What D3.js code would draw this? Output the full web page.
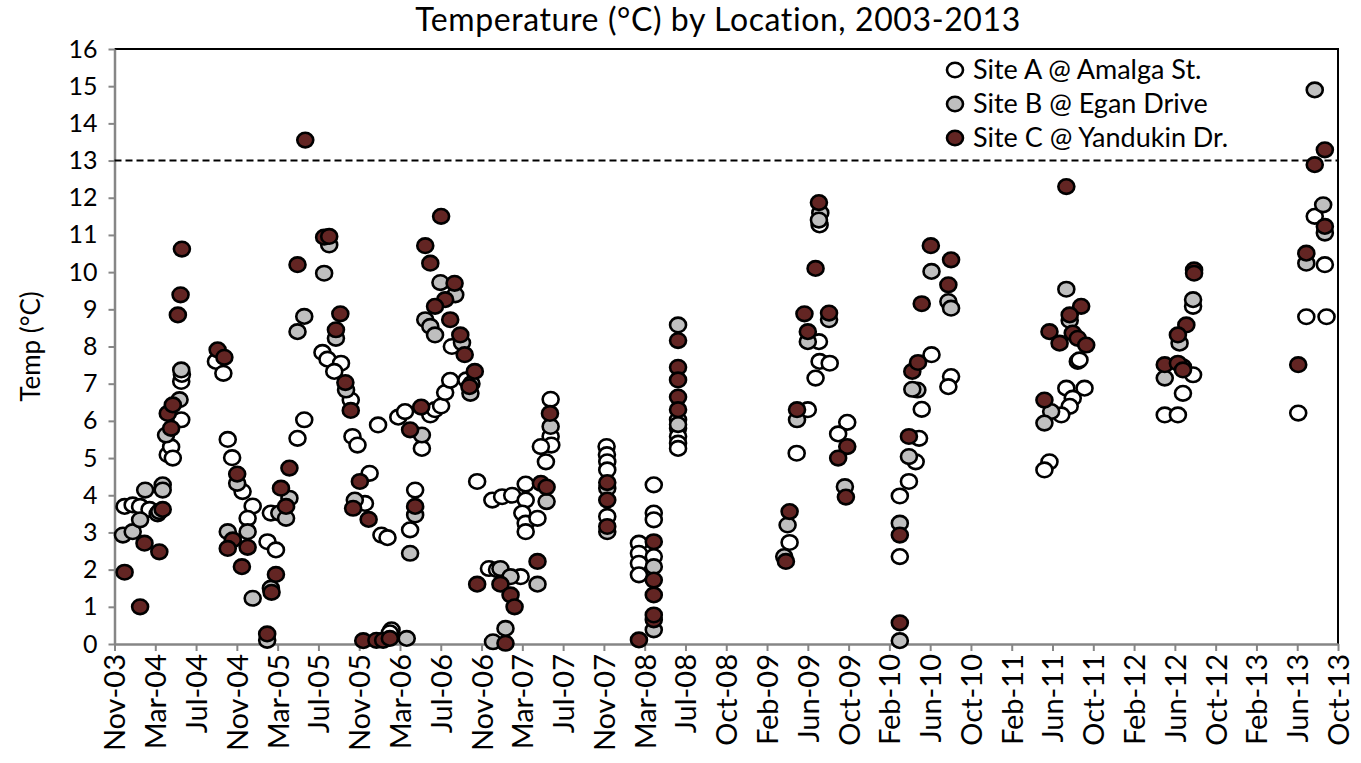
<!DOCTYPE html>
<html>
<head>
<meta charset="utf-8">
<script src="https://cdn.jsdelivr.net/npm/d3@7"></script>
<style>
  body { margin: 0; background: #fff; }
  text { font-family: Lato, "Open Sans", sans-serif; }
</style>
</head>
<body>
<div id="chart"></div>
<script>
// readings: [date, temperature °C]
var siteA = [
  ["2003-12-11", 3.7], ["2004-01-04", 3.74], ["2004-01-26", 3.7], ["2004-02-23", 3.62], ["2004-03-18", 3.5],
  ["2004-04-17", 5.09], ["2004-04-27", 5.3], ["2004-05-02", 5.0], ["2004-05-27", 6.03], ["2004-05-27", 7.06],
  ["2004-05-29", 7.25], ["2004-09-07", 7.6], ["2004-09-29", 7.28], ["2004-10-12", 5.5], ["2004-10-25", 5.01],
  ["2004-11-25", 4.1], ["2004-12-25", 3.71], ["2004-12-10", 3.38], ["2005-02-07", 2.75], ["2005-03-04", 2.53],
  ["2005-02-17", 3.52], ["2005-05-07", 5.53], ["2005-05-27", 6.03], ["2005-07-20", 7.84], ["2005-08-04", 7.66],
  ["2005-09-13", 7.55], ["2005-08-24", 7.33], ["2005-10-12", 6.56], ["2005-10-17", 5.58], ["2005-11-01", 5.35],
  ["2005-12-07", 4.59], ["2005-11-23", 3.78], ["2006-01-01", 5.89], ["2006-01-11", 2.93], ["2006-01-29", 2.86],
  ["2006-02-10", 0.38], ["2006-02-05", 0.3], ["2006-04-21", 4.14], ["2006-04-06", 3.07], ["2006-03-02", 6.1],
  ["2006-03-22", 6.25], ["2006-05-11", 5.26], ["2006-06-05", 6.16], ["2006-06-19", 6.3], ["2006-07-07", 6.4],
  ["2006-07-19", 6.76], ["2006-08-03", 7.09], ["2006-08-08", 8.0], ["2006-09-20", 7.1], ["2006-10-22", 4.37],
  ["2006-12-06", 3.87], ["2007-01-04", 3.96], ["2007-02-03", 4.0], ["2007-03-15", 4.3], ["2007-03-15", 3.87],
  ["2007-03-05", 3.52], ["2007-03-15", 3.25], ["2007-03-15", 3.02], ["2007-04-19", 3.38], ["2007-05-28", 6.58],
  ["2007-05-28", 5.58], ["2007-05-30", 5.35], ["2007-04-29", 5.31], ["2007-05-14", 4.9], ["2006-11-26", 2.03],
  ["2006-12-20", 2.0], ["2007-02-28", 1.81],
  ["2007-11-10", 5.31], ["2007-11-11", 5.09], ["2007-11-12", 4.9], ["2007-11-12", 4.68], ["2007-11-12", 3.43],
  ["2008-03-29", 4.28], ["2008-03-29", 3.52], ["2008-03-29", 3.34], ["2008-02-14", 2.71], ["2008-02-14", 2.44],
  ["2008-02-14", 2.17], ["2008-02-14", 1.86], ["2008-03-29", 2.35],
  ["2008-06-09", 5.8], ["2008-06-09", 5.58], ["2008-06-09", 5.4], ["2008-06-09", 5.26],
  ["2009-05-06", 2.73], ["2009-08-03", 11.27], ["2009-08-01", 8.13], ["2009-08-03", 7.6], ["2009-09-02", 7.55],
  ["2009-07-22", 7.15], ["2009-06-29", 6.3], ["2009-05-27", 5.13], ["2009-10-24", 5.96], ["2009-09-27", 5.65],
  ["2010-03-29", 2.35], ["2010-03-29", 3.98], ["2010-04-25", 4.37], ["2010-05-15", 4.9], ["2010-05-25", 5.53],
  ["2010-06-02", 6.31], ["2010-07-01", 7.78], ["2010-08-28", 7.19], ["2010-08-20", 6.92],
  ["2011-09-08", 7.6], ["2011-09-13", 7.64], ["2011-08-05", 6.88], ["2011-09-28", 6.88], ["2011-08-24", 6.61],
  ["2011-08-15", 6.39], ["2011-07-21", 6.16], ["2011-06-16", 4.9], ["2011-06-01", 4.68],
  ["2012-08-15", 9.08], ["2012-08-15", 7.24], ["2012-07-16", 6.74], ["2012-05-23", 6.16], ["2012-07-01", 6.16],
  ["2013-08-11", 11.5], ["2013-09-10", 10.2], ["2013-07-17", 8.8], ["2013-09-15", 8.8], ["2013-06-23", 6.21]
];

var siteB = [
  ["2003-12-06", 2.93], ["2004-01-04", 3.02], ["2004-01-26", 3.34], ["2004-02-10", 4.14], ["2004-04-02", 4.28],
  ["2004-04-02", 4.14], ["2004-03-23", 3.56], ["2004-04-12", 5.62], ["2004-05-22", 6.57], ["2004-05-27", 7.37],
  ["2004-11-09", 4.32], ["2004-12-10", 3.02], ["2004-10-12", 3.02], ["2004-12-25", 1.23], ["2005-02-17", 1.5],
  ["2005-02-06", 0.1], ["2005-03-14", 3.52], ["2005-04-13", 3.92], ["2005-04-03", 3.38], ["2005-05-07", 8.4],
  ["2005-05-27", 8.81], ["2005-08-09", 10.73], ["2005-07-25", 9.97], ["2005-08-29", 8.22], ["2005-09-28", 6.83],
  ["2005-10-24", 3.87], ["2006-03-27", 0.15], ["2006-04-21", 3.47], ["2006-04-06", 2.44], ["2006-05-11", 5.62],
  ["2006-05-21", 8.72], ["2006-06-05", 8.54], ["2006-06-19", 8.31], ["2006-07-05", 9.72], ["2006-08-18", 9.39],
  ["2006-09-07", 8.1], ["2006-10-02", 6.74], ["2006-10-05", 7.0], ["2007-05-16", 3.83], ["2007-05-28", 5.85],
  ["2006-12-30", 2.03], ["2007-01-29", 1.81], ["2007-04-19", 1.61], ["2007-01-14", 0.42], ["2006-12-08", 0.06],
  ["2007-11-12", 4.19], ["2007-11-12", 3.02], ["2008-03-29", 2.08], ["2008-03-29", 0.38],
  ["2008-06-09", 8.58], ["2008-06-09", 6.03], ["2008-06-09", 5.9],
  ["2009-04-30", 3.2], ["2009-04-20", 2.35], ["2009-08-05", 11.59], ["2009-08-01", 11.4], ["2009-08-31", 8.72],
  ["2009-06-29", 8.13], ["2009-05-28", 6.03], ["2009-10-17", 4.23],
  ["2010-03-29", 0.09], ["2010-03-29", 3.25], ["2010-04-25", 5.04], ["2010-05-20", 6.83], ["2010-05-05", 6.85],
  ["2010-07-01", 10.02], ["2010-08-20", 9.21], ["2010-08-28", 9.03],
  ["2011-08-05", 9.54], ["2011-08-15", 8.7], ["2011-06-21", 6.25], ["2011-06-01", 5.94],
  ["2012-08-15", 9.26], ["2012-07-06", 8.09], ["2012-05-23", 7.15], ["2012-07-16", 7.45],
  ["2013-08-11", 14.9], ["2013-09-05", 11.81], ["2013-09-10", 11.05], ["2013-07-17", 10.24]
];

var siteC = [
  ["2003-12-11", 1.93], ["2004-01-26", 1.0], ["2004-02-08", 2.71], ["2004-04-02", 3.62], ["2004-03-23", 2.48],
  ["2004-04-17", 6.2], ["2004-04-27", 5.8], ["2004-05-02", 6.43], ["2004-05-17", 8.85], ["2004-05-25", 9.39],
  ["2004-05-29", 10.62], ["2004-09-12", 7.91], ["2004-10-02", 7.71], ["2004-11-09", 4.57], ["2004-10-27", 2.8],
  ["2004-10-12", 2.57], ["2004-12-10", 2.6], ["2004-11-23", 2.08], ["2005-03-04", 1.87], ["2005-02-19", 1.39],
  ["2005-02-06", 0.27], ["2005-03-19", 4.19], ["2005-04-03", 3.7], ["2005-04-13", 4.73], ["2005-05-07", 10.2],
  ["2005-05-30", 13.55], ["2005-07-25", 10.94], ["2005-08-09", 10.96], ["2005-09-11", 8.88], ["2005-08-29", 8.45],
  ["2005-09-26", 7.03], ["2005-10-12", 6.28], ["2005-11-08", 4.37], ["2005-10-19", 3.65], ["2005-12-04", 3.35],
  ["2005-11-18", 0.09], ["2005-12-27", 0.1], ["2006-01-16", 0.1], ["2006-02-05", 0.15], ["2006-04-21", 3.7],
  ["2006-04-06", 5.76], ["2006-05-09", 6.37], ["2006-05-21", 10.71], ["2006-06-05", 10.24], ["2006-07-07", 11.5],
  ["2006-08-16", 9.7], ["2006-07-19", 9.26], ["2006-06-19", 9.08], ["2006-08-03", 8.72], ["2006-09-02", 8.31],
  ["2006-09-15", 7.78], ["2006-10-15", 7.33], ["2006-09-29", 6.92], ["2007-04-29", 4.32], ["2007-05-16", 4.22],
  ["2007-05-26", 6.2], ["2006-10-22", 1.61], ["2006-12-30", 1.61], ["2007-01-29", 1.32], ["2007-02-10", 1.0],
  ["2007-04-19", 2.22], ["2007-01-14", 0.02],
  ["2007-11-12", 4.34], ["2007-11-12", 3.87], ["2007-11-12", 3.16],
  ["2008-03-29", 2.75], ["2008-03-29", 1.72], ["2008-03-29", 1.32], ["2008-03-29", 0.65], ["2008-03-29", 0.78],
  ["2008-02-14", 0.11],
  ["2008-06-09", 8.16], ["2008-06-09", 7.44], ["2008-06-09", 7.1], ["2008-06-09", 6.64], ["2008-06-09", 6.3],
  ["2009-05-06", 3.56], ["2009-04-25", 2.22], ["2009-08-01", 11.87], ["2009-07-22", 10.1], ["2009-06-19", 8.88],
  ["2009-08-31", 8.9], ["2009-06-29", 8.4], ["2009-05-28", 6.3], ["2009-10-24", 5.31], ["2009-09-27", 5.0],
  ["2009-10-20", 3.95],
  ["2010-03-29", 0.57], ["2010-03-29", 2.93], ["2010-04-25", 5.58], ["2010-05-05", 7.33], ["2010-05-22", 7.57],
  ["2010-06-02", 9.15], ["2010-06-29", 10.71], ["2010-08-28", 10.33], ["2010-08-20", 9.66],
  ["2011-08-05", 12.3], ["2011-09-18", 9.08], ["2011-08-15", 8.85], ["2011-06-16", 8.4], ["2011-07-16", 8.09],
  ["2011-08-24", 8.36], ["2011-09-08", 8.22], ["2011-10-03", 8.04], ["2011-06-01", 6.56],
  ["2012-08-18", 10.06], ["2012-08-18", 9.97], ["2012-07-26", 8.58], ["2012-07-01", 8.31], ["2012-05-23", 7.51],
  ["2012-07-01", 7.55], ["2012-07-16", 7.37],
  ["2013-09-10", 13.29], ["2013-08-11", 12.89], ["2013-09-10", 11.23], ["2013-07-17", 10.51], ["2013-06-23", 7.51]
];

var seriesNames = ["Site A @ Amalga St.", "Site B @ Egan Drive", "Site C @ Yandukin Dr."];
var seriesColors = ["#ffffff", "#bfbfbf", "#632523"];
var yTicks = d3.range(0, 17);
var limitValue = 13;
var axisStart = "2003-11-11";
var axisEnd = "2013-10-19";
var tickStepDays = 121;

var chartW = 1361, chartH = 763;
var plotL = 114.5, plotR = 1338, plotT = 49, plotB = 644;
var markRx = 8, markRy = 7.3, markStroke = 2.6;

var parseDate = d3.utcParse("%Y-%m-%d");
var fmt = d3.utcFormat("%b-%y");

var svg = d3.select("#chart").append("svg")
  .attr("width", chartW)
  .attr("height", chartH)
  .style("background", "#fff");

var x = d3.scaleUtc()
  .domain([parseDate(axisStart), parseDate(axisEnd)])
  .range([plotL, plotR]);
var y = d3.scaleLinear()
  .domain([0, 16])
  .range([plotB, plotT]);

var xTicks = d3.range(0, 31).map(function(k){ return d3.utcDay.offset(parseDate(axisStart), k * tickStepDays); });

// frame (top and right edges)
svg.append("path")
  .attr("d", "M" + plotL + "," + plotT + "H" + plotR + "V" + plotB)
  .attr("fill", "none")
  .attr("stroke", "#000")
  .attr("stroke-width", 2);

// y axis
var yAxisG = svg.append("g")
  .attr("transform", "translate(" + plotL + ",0)")
  .call(d3.axisLeft(y).tickValues(yTicks).tickSize(6).tickPadding(11).tickSizeOuter(0));
yAxisG.select(".domain").attr("stroke", "#868686").attr("stroke-width", 2.5);
yAxisG.selectAll(".tick line").attr("stroke", "#868686").attr("stroke-width", 2);
yAxisG.selectAll(".tick text")
  .attr("fill", "#000")
  .style("font-size", "25px")
  .style("font-family", "Lato, sans-serif");

// x axis
var xAxisG = svg.append("g")
  .attr("transform", "translate(0," + plotB + ")")
  .call(d3.axisBottom(x).tickValues(xTicks).tickFormat(fmt).tickSize(7).tickSizeOuter(0));
xAxisG.select(".domain").attr("stroke", "#868686").attr("stroke-width", 2.5);
xAxisG.selectAll(".tick line").attr("stroke", "#868686").attr("stroke-width", 2);
xAxisG.selectAll(".tick text")
  .attr("fill", "#000")
  .attr("transform", "rotate(-90)")
  .attr("text-anchor", "end")
  .attr("x", -10)
  .attr("y", 0)
  .attr("dy", "0.36em")
  .style("font-size", "29px")
  .style("font-family", "Lato, sans-serif");

// 13 °C reference line
svg.append("line")
  .attr("x1", plotL).attr("x2", plotR)
  .attr("y1", y(limitValue)).attr("y2", y(limitValue))
  .attr("stroke", "#000")
  .attr("stroke-width", 2)
  .attr("stroke-dasharray", "7,4");

// points
var allSeries = [siteA, siteB, siteC];
allSeries.forEach(function(series, i){
  svg.append("g").selectAll("ellipse")
    .data(series)
    .enter()
    .append("ellipse")
      .attr("cx", function(d){ return x(parseDate(d[0])); })
      .attr("cy", function(d){ return y(d[1]); })
      .attr("rx", markRx)
      .attr("ry", markRy)
      .attr("fill", seriesColors[i])
      .attr("stroke", "#000")
      .attr("stroke-width", markStroke);
});

// title
svg.append("text")
  .attr("x", 718)
  .attr("y", 31)
  .attr("text-anchor", "middle")
  .style("font-size", "32px")
  .style("letter-spacing", "0.6px")
  .text("Temperature (°C) by Location, 2003-2013");

// y label
svg.append("text")
  .attr("transform", "translate(40," + ((plotT + plotB) / 2) + ") rotate(-90)")
  .attr("text-anchor", "middle")
  .style("font-size", "26px")
  .text("Temp (°C)");

// legend
var legend = svg.append("g").attr("transform", "translate(955,70)");
seriesNames.forEach(function(name, i){
  var row = legend.append("g").attr("transform", "translate(0," + (i * 34) + ")");
  row.append("ellipse")
    .attr("rx", markRx).attr("ry", markRy)
    .attr("fill", seriesColors[i])
    .attr("stroke", "#000")
    .attr("stroke-width", markStroke);
  row.append("text")
    .attr("x", 18)
    .attr("y", 0)
    .attr("dy", "0.35em")
    .style("font-size", "27px")
    .text(name);
});
</script>
</body>
</html>
